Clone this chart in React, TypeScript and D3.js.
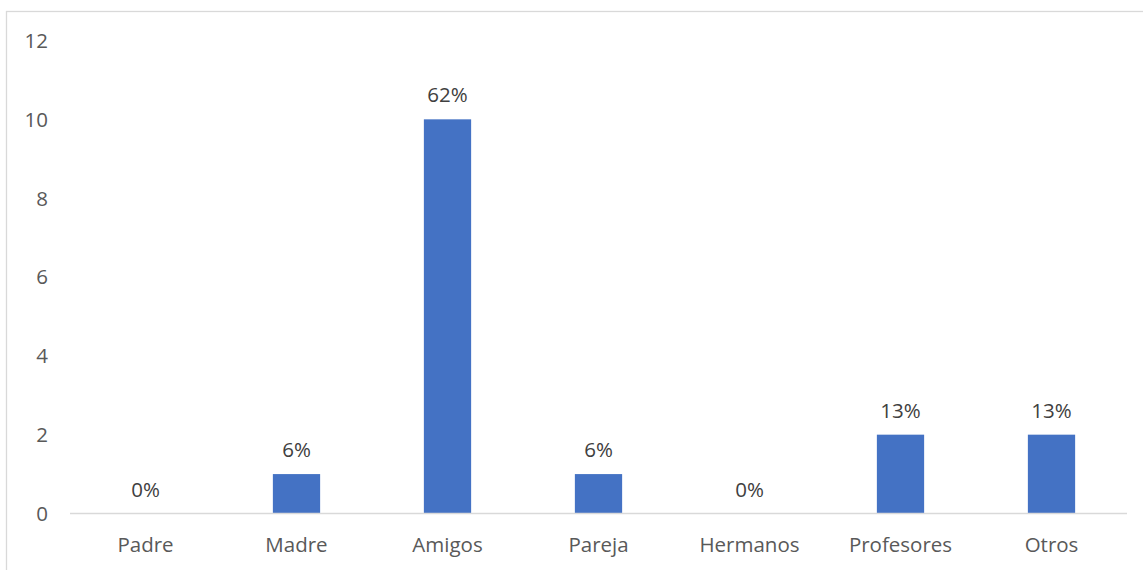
import React, { useEffect, useRef } from 'react';
import * as d3 from 'd3';

const categories = ['Padre', 'Madre', 'Amigos', 'Pareja', 'Hermanos', 'Profesores', 'Otros'];
const values = [0, 1, 10, 1, 0, 2, 2];
const percentLabels = ['0%', '6%', '62%', '6%', '0%', '13%', '13%'];
const yTicks = [0, 2, 4, 6, 8, 10, 12];

const App: React.FC = () => {
  const svgRef = useRef<SVGSVGElement>(null);

  useEffect(() => {
    if (!svgRef.current) return;

    const width = 1143;
    const height = 570;
    const left = 70;
    const right = 1127;
    const bottom = 513.5;
    const top = 40.5;
    const textColor = '#595959';
    const font = '"Open Sans", sans-serif';
    const fontSize = '20.5px';

    const svg = d3.select(svgRef.current);
    svg.selectAll('*').remove();

    svg.append('rect')
      .attr('width', width)
      .attr('height', height)
      .attr('fill', '#ffffff');

    // outer chart frame (runs off right and bottom edges)
    svg.append('rect')
      .attr('x', 6.5)
      .attr('y', 11.5)
      .attr('width', width + 10)
      .attr('height', height + 10)
      .attr('fill', 'none')
      .attr('stroke', '#d9d9d9')
      .attr('stroke-width', 1.3);

    const x = d3.scaleBand<string>()
      .domain(categories)
      .range([left, right])
      .paddingInner(0.687)
      .paddingOuter(0.3435);

    const y = d3.scaleLinear()
      .domain([0, 12])
      .range([bottom, top]);

    // y tick labels
    svg.append('g')
      .selectAll('text')
      .data(yTicks)
      .enter()
      .append('text')
      .attr('x', 48)
      .attr('y', d => y(d))
      .attr('dy', '0.36em')
      .attr('text-anchor', 'end')
      .style('font-family', font)
      .style('font-size', fontSize)
      .style('fill', textColor)
      .text(d => d);

    // bars
    svg.append('g')
      .selectAll('rect')
      .data(values)
      .enter()
      .append('rect')
      .attr('x', (d, i) => x(categories[i]) as number)
      .attr('y', d => y(d))
      .attr('width', x.bandwidth())
      .attr('height', d => y(0) - y(d))
      .attr('fill', '#4472c4');

    // baseline
    svg.append('line')
      .attr('x1', left)
      .attr('x2', right)
      .attr('y1', y(0))
      .attr('y2', y(0))
      .attr('stroke', '#d9d9d9')
      .attr('stroke-width', 1.3);

    // data labels
    svg.append('g')
      .selectAll('text')
      .data(values)
      .enter()
      .append('text')
      .attr('x', (d, i) => (x(categories[i]) as number) + x.bandwidth() / 2)
      .attr('y', d => y(d) - 17)
      .attr('text-anchor', 'middle')
      .style('font-family', font)
      .style('font-size', fontSize)
      .style('fill', '#404040')
      .text((d, i) => percentLabels[i]);

    // category labels
    svg.append('g')
      .selectAll('text')
      .data(categories)
      .enter()
      .append('text')
      .attr('x', d => (x(d) as number) + x.bandwidth() / 2)
      .attr('y', bottom + 38)
      .attr('text-anchor', 'middle')
      .style('font-family', font)
      .style('font-size', fontSize)
      .style('fill', textColor)
      .text(d => d);
  }, []);

  return (
    <svg
      ref={svgRef}
      width={1143}
      height={570}
      style={{ position: 'absolute', left: 0, top: 0, display: 'block' }}
    />
  );
};

export default App;
